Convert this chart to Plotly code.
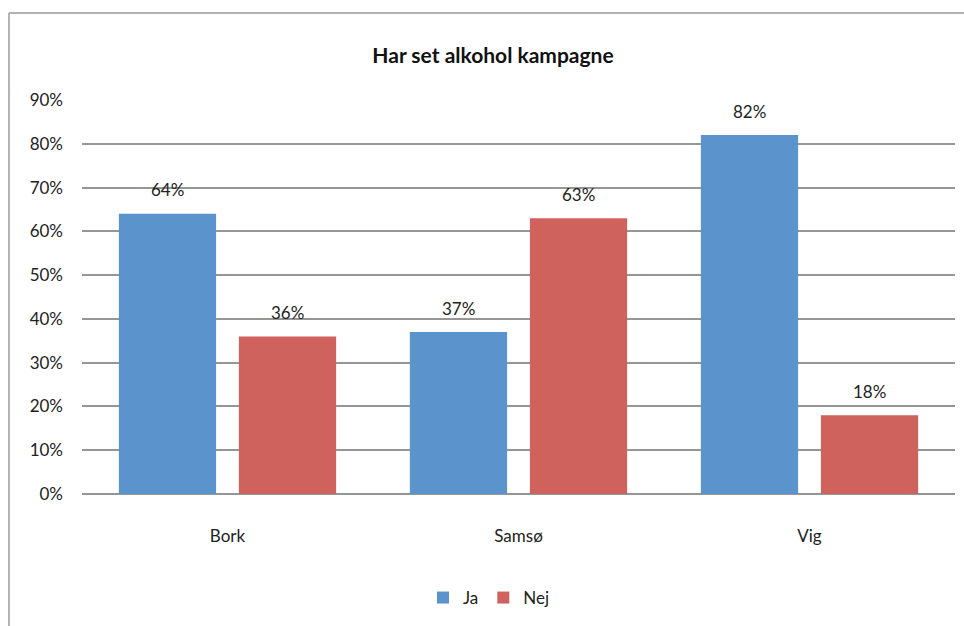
import plotly.graph_objects as go

categories = ["Bork", "Samsø", "Vig"]
ja_values = [0.64, 0.37, 0.82]
nej_values = [0.36, 0.63, 0.18]
series_names = ["Ja", "Nej"]
y_ticks = [0, 0.1, 0.2, 0.3, 0.4, 0.5, 0.6, 0.7, 0.8, 0.9]
y_tick_labels = ["0%", "10%", "20%", "30%", "40%", "50%", "60%", "70%", "80%", "90%"]
title = "Har set alkohol kampagne"

FONT = "Lato, Open Sans, sans-serif"
BLUE = "#5b94cc"
RED = "#d0625d"

fig = go.Figure()
fig.add_trace(go.Bar(name=series_names[0], x=categories, y=ja_values, marker_color=BLUE,
                     marker_line_width=0))
fig.add_trace(go.Bar(name=series_names[1], x=categories, y=nej_values, marker_color=RED,
                     marker_line_width=0))

# value labels above bars
for idx, (vals, offset) in enumerate([(ja_values, -0.5), (nej_values, 0.5)]):
    for i, v in enumerate(vals):
        fig.add_annotation(x=i, y=v, xref="x", yref="y", text=f"{round(v*100)}%",
                           showarrow=False, yanchor="middle", yshift=24,
                           xshift=offset * 120,
                           font=dict(family=FONT, size=17, color="#222222"))

W, H = 964, 626
L, R, T, B = 82, 964 - 955, 100, 626 - 494
pw, ph = W - L - R, H - T - B

def px_x(px):
    return (px - L) / pw

def px_y(py):
    return (H - B - py) / ph

# outer chart border (left and top visible)
fig.add_shape(type="line", xref="paper", yref="paper", x0=px_x(9), x1=px_x(9),
              y0=px_y(13), y1=px_y(640), line=dict(color="#b3b3b3", width=2))
fig.add_shape(type="line", xref="paper", yref="paper", x0=px_x(9), x1=px_x(980),
              y0=px_y(13), y1=px_y(13), line=dict(color="#b3b3b3", width=2))

fig.update_layout(
    width=W, height=H,
    margin=dict(l=L, r=R, t=T, b=B),
    paper_bgcolor="white", plot_bgcolor="white",
    barmode="group", bargap=0.175, bargroupgap=0.19,
    title=dict(text=f"<b>{title}</b>", xref="container", x=493 / W, xanchor="center",
               y=1 - 56 / H, yanchor="middle",
               font=dict(family=FONT, size=21, color="#111111")),
    font=dict(family=FONT, size=17, color="#222222"),
    showlegend=True,
    legend=dict(orientation="h", x=px_x(489), xanchor="center", y=px_y(598),
                yanchor="middle", font=dict(family=FONT, size=17, color="#222222"),
                itemwidth=30, tracegroupgap=0),
    xaxis=dict(showgrid=False, showline=False, ticks="", ticklabelstandoff=30,
               tickfont=dict(family=FONT, size=17, color="#222222")),
    yaxis=dict(range=[0, 0.9], tickvals=y_ticks, ticktext=y_tick_labels,
               showgrid=True, gridcolor="#969696", gridwidth=2,
               zeroline=True, zerolinecolor="#969696", zerolinewidth=2,
               showline=False, ticks="", ticklabelstandoff=18,
               tickfont=dict(family=FONT, size=17, color="#222222")),
)

fig.write_html("out.html")
